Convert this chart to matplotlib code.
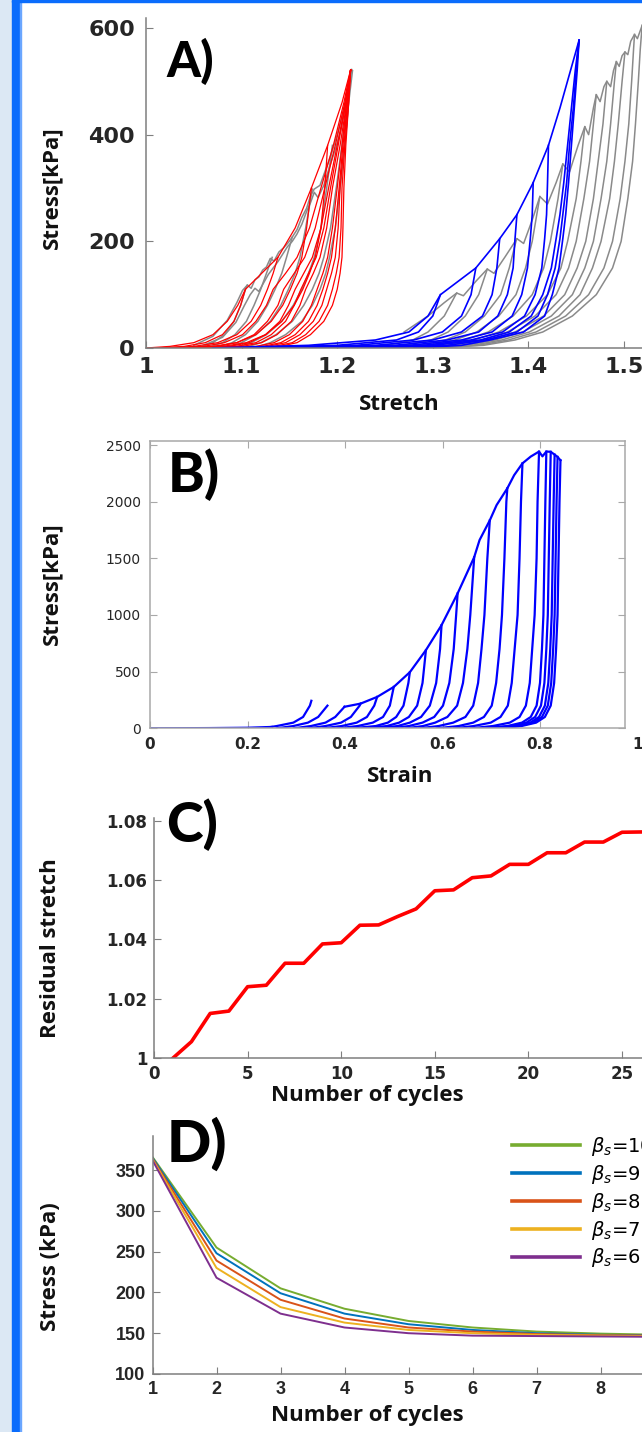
import matplotlib
matplotlib.use("Agg")
import matplotlib.pyplot as plt
from matplotlib.patches import Rectangle

# ── figure geometry (pixels of the 642 x 1432 page) ─────────────────────────
W, H = 642, 1432

def box(left, top, right, bottom):
    return [left / W, 1 - bottom / H, (right - left) / W, (bottom - top) / H]

def fx(x):
    return x / W

def fy(y):
    return 1 - y / H

# ── A) stretch-stress loops, model (red / blue) and experiment (grey) ──────
# every loop row = stretch read at the stress levels below its peak
RED_LEVELS = [0, 3, 10, 25, 50, 80, 110, 140, 170, 225, 300, 380, 460]
RED_ROWS = [
    [1.000, 1.025, 1.050, 1.070, 1.085, 1.096, 1.104, 1.121, 1.138, 1.156, 1.173, 1.190, 1.205],
    [1.036, 1.060, 1.082, 1.101, 1.115, 1.126, 1.133, 1.146, 1.158, 1.171, 1.183, 1.196, 1.207],
    [1.050, 1.073, 1.095, 1.113, 1.127, 1.138, 1.144, 1.155, 1.166, 1.177, 1.187, 1.198, 1.208],
    [1.065, 1.087, 1.108, 1.125, 1.140, 1.149, 1.156, 1.165, 1.174, 1.183, 1.191, 1.200, 1.209],
    [1.072, 1.094, 1.115, 1.131, 1.146, 1.155, 1.162, 1.170, 1.178, 1.186, 1.193, 1.201, 1.209],
    [1.079, 1.101, 1.121, 1.137, 1.152, 1.161, 1.167, 1.175, 1.182, 1.189, 1.195, 1.203, 1.210],
    [1.094, 1.115, 1.134, 1.150, 1.164, 1.173, 1.179, 1.185, 1.190, 1.195, 1.200, 1.205, 1.210],
    [1.101, 1.122, 1.141, 1.156, 1.170, 1.179, 1.185, 1.190, 1.194, 1.198, 1.202, 1.206, 1.211],
    [1.107, 1.127, 1.146, 1.161, 1.175, 1.184, 1.189, 1.194, 1.198, 1.201, 1.203, 1.207, 1.211],
    [1.114, 1.134, 1.153, 1.167, 1.181, 1.190, 1.195, 1.199, 1.202, 1.204, 1.205, 1.208, 1.212],
    [1.120, 1.140, 1.158, 1.172, 1.186, 1.195, 1.200, 1.203, 1.205, 1.206, 1.207, 1.209, 1.212],
    [1.010, 1.040, 1.062, 1.080, 1.092, 1.099],
    [1.020, 1.050, 1.075, 1.095, 1.110, 1.120, 1.127, 1.133],
    [1.030, 1.070, 1.095, 1.115, 1.131, 1.143, 1.151, 1.158, 1.163, 1.168],
    [1.040, 1.080, 1.105, 1.125, 1.142, 1.155, 1.164, 1.171, 1.177, 1.183, 1.187],
]
RED_PEAK_S = [1.214, 1.214, 1.214, 1.214, 1.214, 1.214, 1.214, 1.214, 1.214, 1.214, 1.214,
              1.104, 1.138, 1.173, 1.190]
RED_PEAK_P = [521, 521, 521, 521, 521, 521, 521, 521, 521, 521, 521, 110, 170, 300, 380]

GRAYL_ROWS = [
    [1.040, 1.058, 1.070, 1.082, 1.092, 1.099, 1.104],
    [1.050, 1.068, 1.080, 1.093, 1.105, 1.113, 1.120, 1.126],
    [1.060, 1.078, 1.090, 1.104, 1.117, 1.127, 1.135, 1.142, 1.147],
    [1.070, 1.088, 1.100, 1.115, 1.130, 1.141, 1.149, 1.156, 1.161, 1.167],
    [1.080, 1.098, 1.110, 1.126, 1.142, 1.154, 1.163, 1.170, 1.176, 1.183, 1.189],
    [1.090, 1.108, 1.120, 1.136, 1.153, 1.165, 1.174, 1.181, 1.186, 1.193, 1.199, 1.205, 1.210],
    [1.100, 1.118, 1.130, 1.146, 1.163, 1.174, 1.182, 1.188, 1.192, 1.198, 1.203, 1.208, 1.212],
]
GRAYL_PEAK_S = [1.106, 1.132, 1.153, 1.174, 1.195, 1.215, 1.216]
GRAYL_PEAK_P = [118, 170, 208, 298, 380, 522, 520]
# jagged loading branches of the experiment
GRAYL_UP1_S = [1.050, 1.070, 1.085, 1.095, 1.101, 1.106, 1.110, 1.114, 1.118, 1.122, 1.126, 1.130,
               1.134, 1.139, 1.144, 1.149, 1.153, 1.158, 1.163, 1.168, 1.172, 1.176, 1.182, 1.188,
               1.194, 1.200, 1.206, 1.211, 1.215]
GRAYL_UP1_P = [5, 22, 52, 85, 108, 118, 112, 128, 133, 146, 152, 168, 163, 180, 188, 198, 208, 222,
               245, 262, 285, 298, 305, 335, 365, 400, 440, 480, 522]
GRAYL_UP2_S = [1.060, 1.080, 1.094, 1.103, 1.109, 1.114, 1.118, 1.123, 1.128, 1.133, 1.138, 1.143,
               1.148, 1.153, 1.158, 1.163, 1.168, 1.172, 1.176, 1.180, 1.186, 1.192, 1.198, 1.204,
               1.209, 1.214]
GRAYL_UP2_P = [5, 20, 48, 80, 100, 112, 106, 122, 138, 150, 162, 176, 190, 200, 214, 232, 256, 272,
               292, 282, 305, 340, 372, 410, 455, 515]

BLUE_LEVELS = [0, 5, 15, 30, 60, 100, 150, 205, 250, 310, 380, 450, 520]
BLUE_ROWS = [
    [1.070, 1.170, 1.240, 1.275, 1.295, 1.308, 1.345, 1.370, 1.388, 1.405, 1.421, 1.433, 1.444],
    [1.220, 1.300, 1.350, 1.380, 1.403, 1.415, 1.424, 1.429, 1.433, 1.437, 1.441, 1.445, 1.449],
    [1.250, 1.315, 1.355, 1.388, 1.410, 1.420, 1.428, 1.433, 1.436, 1.440, 1.443, 1.447, 1.450],
    [1.280, 1.330, 1.360, 1.395, 1.417, 1.425, 1.432, 1.436, 1.439, 1.442, 1.445, 1.448, 1.451],
    [1.100, 1.200, 1.262, 1.285, 1.300],
    [1.120, 1.220, 1.280, 1.310, 1.330, 1.340],
    [1.140, 1.240, 1.300, 1.330, 1.352, 1.362, 1.367],
    [1.160, 1.260, 1.315, 1.348, 1.368, 1.378, 1.384, 1.386],
    [1.180, 1.275, 1.330, 1.362, 1.383, 1.393, 1.399, 1.402, 1.404],
    [1.200, 1.290, 1.340, 1.373, 1.396, 1.407, 1.414, 1.417, 1.419, 1.420],
]
BLUE_PEAK_S = [1.453, 1.453, 1.453, 1.453, 1.308, 1.345, 1.370, 1.388, 1.405, 1.421]
BLUE_PEAK_P = [577, 577, 577, 577, 100, 150, 205, 250, 310, 380]

GRAYR_LEVELS = [0, 5, 15, 30, 60, 100, 150, 200, 280, 350, 420, 500, 560]
GRAYR_ROWS = [
    [1.200, 1.252, 1.279, 1.295, 1.312, 1.324],
    [1.215, 1.270, 1.298, 1.316, 1.334, 1.348],
    [1.225, 1.285, 1.313, 1.334, 1.354, 1.371, 1.380, 1.387],
    [1.235, 1.295, 1.323, 1.346, 1.369, 1.387, 1.397, 1.404],
    [1.245, 1.305, 1.333, 1.358, 1.384, 1.404, 1.416, 1.423, 1.431],
    [1.255, 1.314, 1.343, 1.369, 1.398, 1.420, 1.434, 1.441, 1.450, 1.455],
    [1.262, 1.321, 1.351, 1.378, 1.407, 1.429, 1.442, 1.450, 1.458, 1.464, 1.468],
    [1.270, 1.328, 1.358, 1.386, 1.416, 1.438, 1.451, 1.460, 1.468, 1.473, 1.478],
    [1.277, 1.335, 1.365, 1.394, 1.424, 1.446, 1.459, 1.468, 1.476, 1.482, 1.486, 1.490],
    [1.284, 1.341, 1.372, 1.401, 1.432, 1.454, 1.467, 1.476, 1.485, 1.490, 1.494, 1.498],
    [1.291, 1.347, 1.379, 1.408, 1.439, 1.463, 1.479, 1.488, 1.496, 1.501, 1.505, 1.508, 1.510],
    [1.298, 1.353, 1.386, 1.415, 1.446, 1.471, 1.488, 1.497, 1.504, 1.509, 1.512, 1.515, 1.517],
]
GRAYR_PEAK_S = [1.325, 1.357, 1.388, 1.412, 1.436, 1.459, 1.471, 1.482, 1.492, 1.501, 1.511, 1.519]
GRAYR_PEAK_P = [103, 148, 205, 284, 345, 415, 475, 500, 537, 555, 588, 605]
GRAYR_UP_S = [1.270, 1.295, 1.312, 1.325, 1.332, 1.345, 1.357, 1.364, 1.376, 1.388, 1.395, 1.404,
              1.412, 1.420, 1.429, 1.436, 1.443, 1.452, 1.459, 1.463, 1.468, 1.471, 1.475, 1.479,
              1.482, 1.486, 1.489, 1.492, 1.495, 1.498, 1.501, 1.504, 1.507, 1.511, 1.514, 1.519]
GRAYR_UP_P = [30, 60, 85, 103, 98, 125, 148, 140, 172, 205, 196, 240, 284, 270, 310, 345, 330, 380,
              415, 400, 450, 475, 462, 490, 500, 490, 520, 537, 528, 548, 555, 550, 575, 588, 580, 605]

# ── B) strain-stress loops (strain read at the stress levels below each peak) ─
B_LEVELS = [0, 20, 50, 100, 200, 400, 700, 1000, 1500, 2000]
B_ROWS = [
    [0.231, 0.260, 0.294, 0.314, 0.328],
    [0.260, 0.294, 0.324, 0.345],
    [0.295, 0.330, 0.360, 0.380],
    [0.325, 0.360, 0.392, 0.412, 0.430],
    [0.355, 0.393, 0.424, 0.445, 0.460],
    [0.385, 0.426, 0.457, 0.478, 0.492],
    [0.413, 0.463, 0.488, 0.505, 0.520, 0.530],
    [0.441, 0.486, 0.511, 0.531, 0.548, 0.559],
    [0.468, 0.508, 0.533, 0.556, 0.574, 0.587, 0.595],
    [0.496, 0.531, 0.559, 0.583, 0.601, 0.614, 0.623, 0.628],
    [0.525, 0.560, 0.585, 0.610, 0.630, 0.642, 0.651, 0.657],
    [0.552, 0.592, 0.622, 0.647, 0.663, 0.673, 0.680, 0.686, 0.692],
    [0.588, 0.633, 0.663, 0.685, 0.701, 0.710, 0.717, 0.722, 0.727, 0.731],
    [0.624, 0.664, 0.699, 0.719, 0.734, 0.742, 0.748, 0.754, 0.758, 0.761],
    [0.658, 0.703, 0.738, 0.758, 0.771, 0.779, 0.784, 0.789, 0.793, 0.795],
    [0.683, 0.733, 0.763, 0.781, 0.793, 0.800, 0.804, 0.807, 0.809, 0.811],
    [0.692, 0.742, 0.772, 0.790, 0.802, 0.809, 0.813, 0.816, 0.818, 0.820],
    [0.700, 0.750, 0.780, 0.798, 0.810, 0.817, 0.821, 0.824, 0.826, 0.828],
    [0.706, 0.756, 0.786, 0.804, 0.816, 0.823, 0.827, 0.830, 0.832, 0.834],
    [0.712, 0.762, 0.792, 0.810, 0.822, 0.829, 0.833, 0.836, 0.838, 0.840],
]
B_PEAK_STRAIN = [0.331, 0.364, 0.399, 0.432, 0.466, 0.500, 0.533, 0.566, 0.598, 0.631,
                 0.665, 0.697, 0.733, 0.764, 0.798, 0.813, 0.822, 0.830, 0.836, 0.842]
B_PEAK_STRESS = [243, 200, 190, 218, 277, 365, 495, 690, 910, 1190,
                 1510, 1835, 2118, 2338, 2442, 2442, 2440, 2415, 2395, 2365]
B_BASE_STRAIN = [0.0, 0.12, 0.20, 0.25]
B_BASE_STRESS = [0, 2, 5, 12]
B_ENV_STRAIN = [0.399, 0.432, 0.466, 0.500, 0.533, 0.566, 0.598, 0.631, 0.665, 0.676, 0.697,
                0.711, 0.733, 0.747, 0.764, 0.781, 0.798, 0.805, 0.813, 0.822, 0.830, 0.836, 0.842]
B_ENV_STRESS = [190, 218, 277, 365, 495, 690, 910, 1190, 1510, 1661, 1835,
                1970, 2118, 2234, 2338, 2398, 2442, 2400, 2442, 2440, 2415, 2395, 2365]

# ── C) residual stretch per cycle ──────────────────────────────────────────
C_CYCLES = [1, 2, 3, 4, 5, 6, 7, 8, 9, 10, 11, 12, 13, 14, 15, 16, 17, 18, 19, 20,
            21, 22, 23, 24, 25, 26]
C_RESIDUAL = [1.0000, 1.0056, 1.0151, 1.0159, 1.0241, 1.0246, 1.0320, 1.0320, 1.0385, 1.0389,
              1.0448, 1.0449, 1.0477, 1.0503, 1.0564, 1.0567, 1.0608, 1.0614, 1.0653, 1.0653,
              1.0692, 1.0692, 1.0728, 1.0728, 1.0761, 1.0762]

# ── D) peak stress per cycle for several beta_s ───────────────────────────
D_CYCLES = [1, 2, 3, 4, 5, 6, 7, 8, 9, 10]
D_BETA10 = [366, 255, 205, 180, 165, 157, 152, 149.5, 148, 147]
D_BETA9 = [365, 248, 199, 174, 161, 154, 150, 148, 147.5, 146.5]
D_BETA8 = [364, 239, 191, 168, 157, 152, 149, 147.5, 147, 146]
D_BETA7 = [363, 230, 182, 163, 154, 150, 148, 147, 146.5, 146]
D_BETA6 = [362, 218, 174, 157, 150, 147, 146.5, 146, 145.5, 145]
D_LABELS = [r"$\beta_s$=10", r"$\beta_s$=9", r"$\beta_s$=8", r"$\beta_s$=7", r"$\beta_s$=6"]
D_COLORS = ["#77AC30", "#0072BD", "#D95319", "#EDB120", "#7E2F8E"]

TICK_C = "#262626"
LABEL_FONT = dict(fontfamily="Open Sans", fontweight="bold", fontsize=16, color="#111111")
PANEL_FONT = dict(fontfamily="Lato", fontweight="black", color="black")


def draw_loops(ax, levels, rows, peak_x, peak_y, **kw):
    for row, px, py in zip(rows, peak_x, peak_y):
        ax.plot(list(row) + [px], list(levels[:len(row)]) + [py], **kw)


def style(ax, spine_c, fam, size, xpad, ypad, full_box=False):
    for side in ("top", "right"):
        ax.spines[side].set_visible(full_box)
    for sp in ax.spines.values():
        sp.set_color(spine_c)
        sp.set_linewidth(1.1)
    ax.tick_params(direction="in", length=5, width=0.8, color=spine_c, labelcolor=TICK_C,
                   top=full_box, right=full_box)
    ax.tick_params(axis="x", pad=xpad)
    ax.tick_params(axis="y", pad=ypad)
    for lbl in ax.get_xticklabels() + ax.get_yticklabels():
        lbl.set_fontfamily(fam)
        lbl.set_fontweight("bold")
        lbl.set_fontsize(size)


fig = plt.figure(figsize=(W / 100, H / 100), dpi=100)
fig.patch.set_facecolor("white")

# page frame
fig.patches.append(Rectangle((0, 0), fx(12), 1, transform=fig.transFigure, color="#dce8f4", zorder=1))
fig.patches.append(Rectangle((fx(12), 0), fx(8), 1, transform=fig.transFigure, color="#0a6cfc", zorder=1))
fig.patches.append(Rectangle((fx(20), 0), fx(1.2), 1, transform=fig.transFigure, color="#6aa6ff", zorder=1))
fig.patches.append(Rectangle((fx(12), fy(2)), 1, fy(0) - fy(2), transform=fig.transFigure,
                             color="#0a6cfc", zorder=1))

# ── panel A ───────────────────────────────────────────────────────────────
axA = fig.add_axes(box(146, 18, 719.6, 348))
draw_loops(axA, RED_LEVELS, GRAYL_ROWS, GRAYL_PEAK_S, GRAYL_PEAK_P, color="#8a8a8a", lw=1.1)
axA.plot(GRAYL_UP1_S, GRAYL_UP1_P, color="#8a8a8a", lw=1.1)
axA.plot(GRAYL_UP2_S, GRAYL_UP2_P, color="#8a8a8a", lw=1.1)
draw_loops(axA, RED_LEVELS, RED_ROWS, RED_PEAK_S, RED_PEAK_P, color="#ff0000", lw=0.9)
draw_loops(axA, GRAYR_LEVELS, GRAYR_ROWS, GRAYR_PEAK_S, GRAYR_PEAK_P, color="#8a8a8a", lw=1.1)
axA.plot(GRAYR_UP_S, GRAYR_UP_P, color="#8a8a8a", lw=1.1)
draw_loops(axA, BLUE_LEVELS, BLUE_ROWS, BLUE_PEAK_S, BLUE_PEAK_P, color="#0000ff", lw=1.2)
axA.set_xlim(1.0, 1.6)
axA.set_ylim(0, 618.75)
axA.set_xticks([1.0, 1.1, 1.2, 1.3, 1.4, 1.5, 1.6], ["1", "1.1", "1.2", "1.3", "1.4", "1.5", "1.6"])
axA.set_yticks([0, 200, 400, 600], ["0", "200", "400", "600"])
style(axA, "#7f7f7f", "DejaVu Sans", 16, 6.7, 8)
axA.set_xlabel("Stretch", va="center", **LABEL_FONT)
axA.xaxis.set_label_coords(fx(399), fy(404), transform=fig.transFigure)
axA.set_ylabel("Stress[kPa]", va="center", **LABEL_FONT)
axA.yaxis.set_label_coords(fx(52), fy(188), transform=fig.transFigure)

# ── panel B ───────────────────────────────────────────────────────────────
axB = fig.add_axes(box(150, 440.7, 637.5, 728.3))
axB.plot(B_BASE_STRAIN, B_BASE_STRESS, color="#0000ff", lw=1.6)
axB.plot(B_ENV_STRAIN, B_ENV_STRESS, color="#0000ff", lw=1.6)
draw_loops(axB, B_LEVELS, B_ROWS, B_PEAK_STRAIN, B_PEAK_STRESS, color="#0000ff", lw=1.6)
axB.set_xlim(0, 1)
axB.set_ylim(0, 2538)
axB.set_xticks([0, 0.2, 0.4, 0.6, 0.8, 1.0], ["0", "0.2", "0.4", "0.6", "0.8", "1"])
axB.set_yticks([0, 500, 1000, 1500, 2000, 2500], ["0", "500", "1000", "1500", "2000", "2500"])
style(axB, "#a8a8a8", "DejaVu Sans", 11, 6.3, 6.5, full_box=True)
axB.spines["right"].set_position(("data", 0.975))
axB.spines["top"].set_bounds(0, 0.975)
axB.spines["bottom"].set_bounds(0, 0.975)
last = axB.xaxis.get_major_ticks()[-1]
last.tick1line.set_visible(False)
last.tick2line.set_visible(False)
axB.set_xlabel("Strain", va="center", **LABEL_FONT)
axB.xaxis.set_label_coords(fx(400), fy(776), transform=fig.transFigure)
axB.set_ylabel("Stress[kPa]", va="center", **LABEL_FONT)
axB.yaxis.set_label_coords(fx(52), fy(584), transform=fig.transFigure)

# ── panel C ───────────────────────────────────────────────────────────────
axC = fig.add_axes(box(154, 818.3, 668.8, 1058.3))
axC.plot(C_CYCLES, C_RESIDUAL, color="#ff0000", lw=2.6, solid_joinstyle="round")
axC.set_xlim(0, 27.5)
axC.set_ylim(1.0, 1.0808)
axC.set_xticks([0, 5, 10, 15, 20, 25], ["0", "5", "10", "15", "20", "25"])
axC.set_yticks([1.0, 1.02, 1.04, 1.06, 1.08], ["1", "1.02", "1.04", "1.06", "1.08"])
style(axC, "#7f7f7f", "DejaVu Sans", 12, 4.8, 4.7)
axC.set_xlabel("Number of cycles", va="center", **LABEL_FONT)
axC.xaxis.set_label_coords(fx(367), fy(1096), transform=fig.transFigure)
axC.set_ylabel("Residual stretch", va="center", **LABEL_FONT)
axC.yaxis.set_label_coords(fx(51), fy(948), transform=fig.transFigure)

# ── panel D ───────────────────────────────────────────────────────────────
axD = fig.add_axes(box(152.5, 1136, 728.5, 1374))
for ys, col, lab in zip([D_BETA10, D_BETA9, D_BETA8, D_BETA7, D_BETA6], D_COLORS, D_LABELS):
    axD.plot(D_CYCLES, ys, color=col, lw=1.4, label=lab)
axD.set_xlim(1, 10)
axD.set_ylim(100, 391.7)
axD.set_xticks([1, 2, 3, 4, 5, 6, 7, 8, 9, 10], ["1", "2", "3", "4", "5", "6", "7", "8", "9", "10"])
axD.set_yticks([100, 150, 200, 250, 300, 350], ["100", "150", "200", "250", "300", "350"])
style(axD, "#7f7f7f", "Liberation Sans", 13, 5.3, 5)
axD.set_xlabel("Number of cycles", va="center", **LABEL_FONT)
axD.xaxis.set_label_coords(fx(367), fy(1415), transform=fig.transFigure)
axD.set_ylabel("Stress (kPa)", va="center", **LABEL_FONT)
axD.yaxis.set_label_coords(fx(51), fy(1267), transform=fig.transFigure)
leg = axD.legend(loc="upper left", bbox_to_anchor=(fx(512), fy(1135)), bbox_transform=fig.transFigure,
                 frameon=False, fontsize=14, handlelength=3.5, handletextpad=0.55,
                 labelspacing=0.25, borderpad=0, borderaxespad=0)
for hl in leg.get_lines():
    hl.set_linewidth(2.6)

# panel letters
fig.text(fx(166), fy(77), "A)", fontsize=35, ha="left", va="baseline", **PANEL_FONT)
fig.text(fx(168), fy(492), "B)", fontsize=40, ha="left", va="baseline", **PANEL_FONT)
fig.text(fx(166), fy(842), "C)", fontsize=40, ha="left", va="baseline", **PANEL_FONT)
fig.text(fx(167), fy(1162), "D)", fontsize=42, ha="left", va="baseline", **PANEL_FONT)

fig.savefig("out.png", dpi=100)
